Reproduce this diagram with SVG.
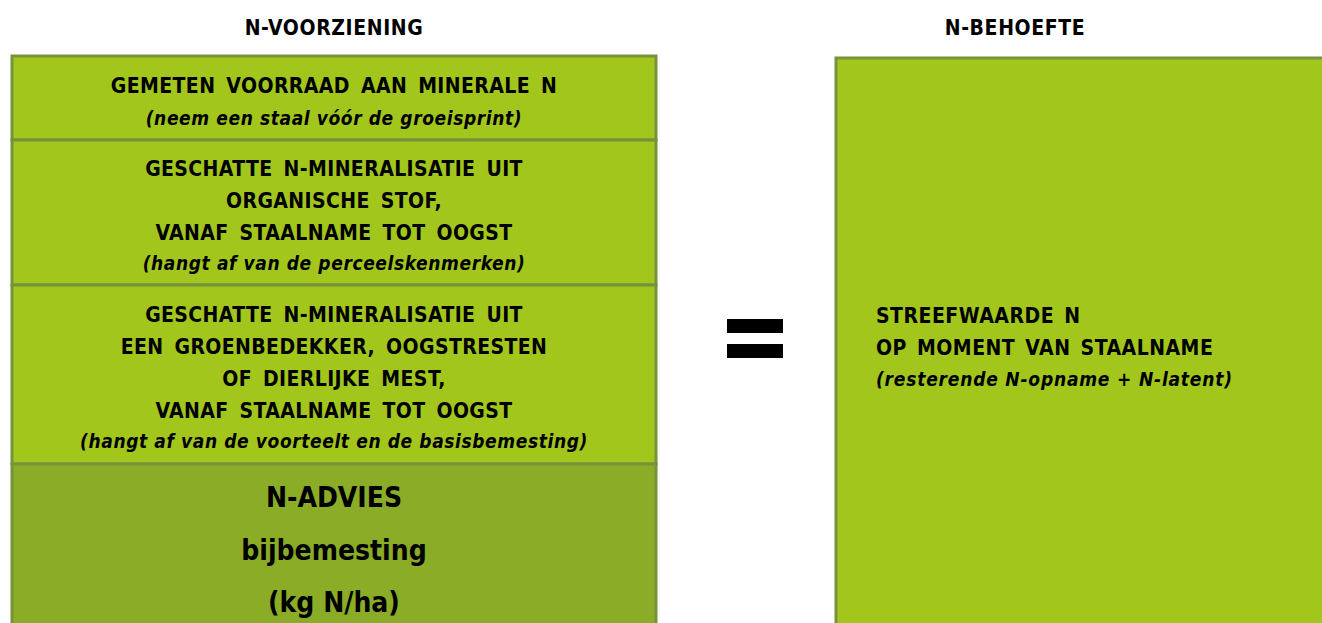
<svg xmlns="http://www.w3.org/2000/svg" width="1322" height="623" viewBox="0 0 1322 623">
<style>
  .box { fill: #a3c61c; stroke: #76923a; stroke-width: 3; }
  .dark { fill: #8bac27; }
  text { font-family: "DejaVu Sans Condensed", "DejaVu Sans", "Liberation Sans", sans-serif; font-weight: bold; fill: #000; }
  .t { font-size: 21px; letter-spacing: 0.4px; word-spacing: 4px; text-anchor: middle; }
  .h { font-size: 21px; letter-spacing: 0.6px; text-anchor: middle; }
  .i { font-size: 19px; font-style: italic; letter-spacing: 0.6px; text-anchor: middle; }
  .big { font-size: 28px; text-anchor: middle; }
  .l { font-size: 21px; letter-spacing: 0.5px; word-spacing: 3px; }
  .li { font-size: 19px; font-style: italic; letter-spacing: 0.8px; }
</style>
<rect width="1322" height="623" fill="#ffffff"/>
<g id="title-voorziening"><text class="h" x="334" y="35">N-VOORZIENING</text></g>
<g id="title-behoefte"><text class="h" x="1015" y="35">N-BEHOEFTE</text></g>
<g id="box-voorraad">
  <rect class="box" x="12" y="56" width="644" height="84"/>
  <text class="t" x="334" y="93">GEMETEN VOORRAAD AAN MINERALE N</text>
  <text class="i" x="334" y="125">(neem een staal vóór de groeisprint)</text>
</g>
<g id="box-organische">
  <rect class="box" x="12" y="140" width="644" height="145"/>
  <text class="t" x="334" y="176">GESCHATTE N-MINERALISATIE UIT</text>
  <text class="t" x="334" y="208">ORGANISCHE STOF,</text>
  <text class="t" x="334" y="240">VANAF STAALNAME TOT OOGST</text>
  <text class="i" x="334" y="270">(hangt af van de perceelskenmerken)</text>
</g>
<g id="box-groenbedekker">
  <rect class="box" x="12" y="285" width="644" height="179"/>
  <text class="t" x="334" y="322">GESCHATTE N-MINERALISATIE UIT</text>
  <text class="t" x="334" y="354">EEN GROENBEDEKKER, OOGSTRESTEN</text>
  <text class="t" x="334" y="386">OF DIERLIJKE MEST,</text>
  <text class="t" x="334" y="418">VANAF STAALNAME TOT OOGST</text>
  <text class="i" x="334" y="448">(hangt af van de voorteelt en de basisbemesting)</text>
</g>
<g id="box-advies">
  <rect class="box dark" x="12" y="464" width="644" height="170"/>
  <text class="big" x="334" y="507">N-ADVIES</text>
  <text class="big" x="334" y="560">bijbemesting</text>
  <text class="big" x="334" y="612">(kg N/ha)</text>
</g>
<g id="equals">
  <rect x="727" y="319" width="56" height="14" fill="#000"/>
  <rect x="727" y="344" width="56" height="14" fill="#000"/>
</g>
<g id="box-streefwaarde">
  <rect class="box" x="836" y="58" width="500" height="580"/>
  <text class="l" x="876" y="323">STREEFWAARDE N</text>
  <text class="l" x="876" y="355">OP MOMENT VAN STAALNAME</text>
  <text class="li" x="876" y="386">(resterende N-opname + N-latent)</text>
</g>
<g id="connectors"></g>
</svg>
